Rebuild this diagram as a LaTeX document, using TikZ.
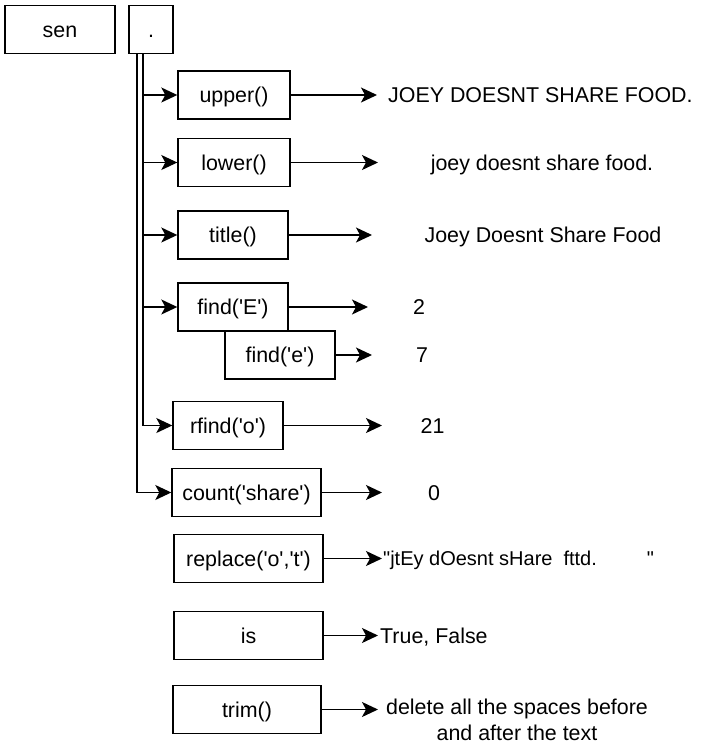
\documentclass[tikz,border=0pt]{standalone}
\usepackage{fontspec}
\newfontfamily\diafont{Liberation Sans}
\usepackage{tikz}
\usetikzlibrary{positioning,arrows.meta,calc}

\begin{document}
\begin{tikzpicture}[
  x=1pt, y=-1pt,
  font=\diafont\fontsize{21.4}{25.7}\selectfont,
  fn/.style={draw, line width=1.4pt, minimum height=48pt, inner sep=0pt,
             text height=15.3pt, text depth=0pt},
  res/.style={-{Stealth[length=16pt, width=15pt, inset=4pt]}, line width=1.4pt},
  outtxt/.style={inner sep=0pt, text height=15.3pt, text depth=0pt}
]
\useasboundingbox (0,0) rectangle (703,750);
% object and the dot
\node[fn, minimum width=110pt] (sen) at (60,29.5) {sen};
\node[fn, minimum width=44pt] (dot) at (151,29.5) {.};
\coordinate (trunkI) at ($(dot.south)+(-8,0)$);
\coordinate (trunkO) at ($(dot.south)+(-14,0)$);
% methods
\node[fn, minimum width=112pt] (upper) at (234,95) {upper()};
\node[fn, minimum width=112pt] (lower) at (234,162.5) {lower()};
\node[fn, minimum width=110pt] (title) at (233,235) {title()};
\node[fn, minimum width=110pt] (findE) at (233,307) {find('E')};
\node[fn, minimum width=110pt] (finde) at (280,355) {find('e')};
\node[fn, minimum width=110pt] (rfind) at (228,425.5) {rfind('o')};
\node[fn, minimum width=149pt] (count) at (246.5,492.5) {count('share')};
\node[fn, minimum width=149pt] (replace) at (248.5,558.5) {replace('o','t')};
\node[fn, minimum width=149pt] (is) at (248.5,635.5) {is};
\node[fn, minimum width=148pt] (trim) at (247,709.5) {trim()};
% trunk to the methods
\foreach \f in {upper,lower,title,findE,rfind}
  \draw[res] (trunkI) |- (\f.west);
\draw[res] (trunkO) |- (count.west);
% arrow tips
\coordinate (upT) at (377,95);
\coordinate (lowT) at (378,162.5);
\coordinate (titT) at (372,235);
\coordinate (fET) at (368,307);
\coordinate (feT) at (372,355);
\coordinate (rfT) at (382,425.5);
\coordinate (coT) at (382,492.5);
\coordinate (reT) at (382,558.5);
\coordinate (isT) at (378,635.5);
\coordinate (trT) at (378,709.5);
\foreach \f/\t in {upper/upT,lower/lowT,title/titT,findE/fET,finde/feT,
                   rfind/rfT,count/coT,replace/reT,is/isT,trim/trT}
  \draw[res] (\f.east) -- (\t);
% results
\node[outtxt, right=11pt of upT] (upO) {JOEY DOESNT SHARE FOOD.};
\node[outtxt] (lowO) at (542,162.5) {joey doesnt share food.};
\node[outtxt] (titO) at (543,235) {Joey Doesnt Share Food};
\node[outtxt] (fEO) at (419,307) {2};
\node[outtxt] (feO) at (422,355) {7};
\node[outtxt] (rfO) at (432.5,425.5) {21};
\node[outtxt] (coO) at (434,492.5) {0};
\node[outtxt, font=\diafont\fontsize{20}{24}\selectfont, text height=14.3pt,
      right=1pt of reT] (reO) {"jtEy dOesnt sHare\hspace{11pt}fttd.\hspace{50pt}"};
\node[outtxt, right=2pt of isT] (isO) {True, False};
\node[inner sep=0pt, align=center] (trO) at (517,720)
  {delete all the spaces before\\and after the text};
\end{tikzpicture}
\end{document}
